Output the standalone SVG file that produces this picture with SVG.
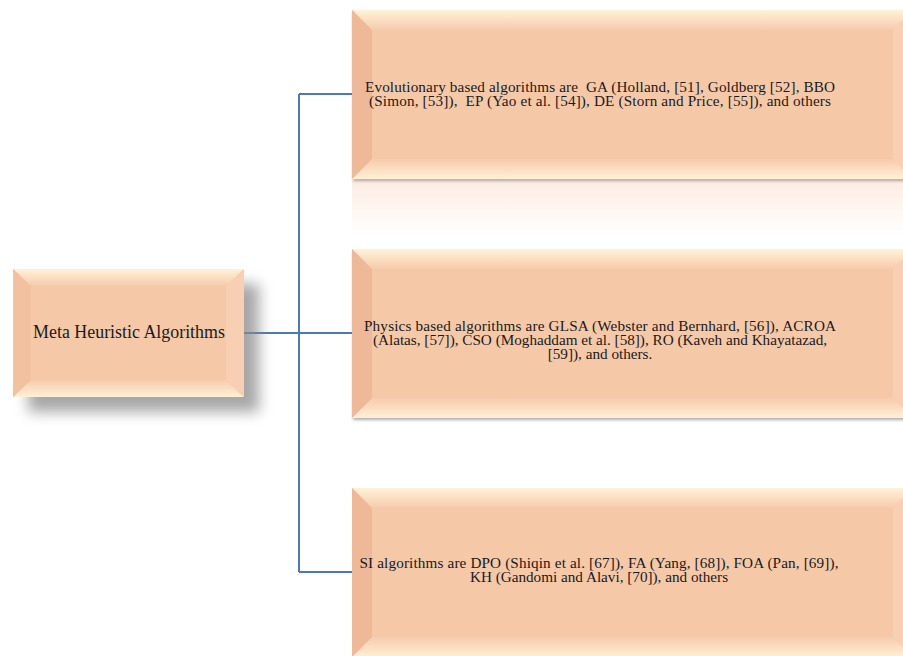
<svg xmlns="http://www.w3.org/2000/svg" width="903" height="656" viewBox="0 0 903 656">
<defs>
<style>
.face{fill:#F5C8A8}
.bt{fill:url(#gTop)}
.bb{fill:url(#gBot)}
.bl{fill:#EDB999}
.br{fill:#F8CFB2}
.txt{font-family:"Liberation Serif","Times New Roman",serif;font-size:15.2px;fill:#1a1a1a;text-anchor:middle;white-space:pre}
.conn{fill:none;stroke:#4A7AB0;stroke-width:2}
</style>
<linearGradient id="gTop" x1="0" y1="0" x2="0" y2="1">
<stop offset="0" stop-color="#FFF2D8"/>
<stop offset="1" stop-color="#F6CBAC"/>
</linearGradient>
<linearGradient id="gBot" x1="0" y1="0" x2="0" y2="1">
<stop offset="0" stop-color="#F6CBAC"/>
<stop offset="1" stop-color="#FFF0D6"/>
</linearGradient>
<linearGradient id="gRefl" x1="0" y1="0" x2="0" y2="1">
<stop offset="0" stop-color="#F5C8A8" stop-opacity="0.35"/>
<stop offset="1" stop-color="#F5C8A8" stop-opacity="0"/>
</linearGradient>
<filter id="shadowBig" x="-20%" y="-20%" width="150%" height="160%">
<feGaussianBlur stdDeviation="7"/>
</filter>
<filter id="shadowSmall" x="-5%" y="-10%" width="110%" height="130%">
<feGaussianBlur stdDeviation="1.5"/>
</filter>
</defs>
<rect width="903" height="656" fill="#FFFFFF"/>

<g id="connectors">
<path class="conn" d="M244 333 H299"/>
<path class="conn" d="M299 94 V572"/>
<path class="conn" d="M299 94 H353"/>
<path class="conn" d="M299 333 H353"/>
<path class="conn" d="M299 572 H353"/>
</g>

<g id="node-meta">
<rect x="28" y="284" width="231" height="128" fill="#8a8a8a" opacity="0.75" filter="url(#shadowBig)"/>
<rect class="face" x="13" y="269" width="231" height="128"/>
<polygon class="bt" points="13,269 244,269 226,286 31,286"/>
<polygon class="bb" points="13,397 244,397 226,380 31,380"/>
<polygon points="13,269 31,286 31,380 13,397" fill="#F2C1A0"/>
<polygon class="br" points="244,269 226,286 226,380 244,397"/>
<text class="txt" x="129" y="338" style="font-size:17.9px">Meta Heuristic Algorithms</text>
</g>

<g id="node-evolutionary">
<rect x="352" y="180" width="561" height="55" fill="url(#gRefl)"/>
<rect x="353" y="12" width="561" height="169" fill="#777" opacity="0.6" filter="url(#shadowSmall)"/>
<rect class="face" x="352" y="10" width="561" height="169"/>
<polygon class="bt" points="352,10 913,10 893,30 372,30"/>
<polygon class="bb" points="352,179 913,179 893,159 372,159"/>
<polygon class="bl" points="352,10 372,30 372,159 352,179"/>
<polygon class="br" points="913,10 893,30 893,159 913,179"/>
<text class="txt" x="600" y="91.5" textLength="470">Evolutionary based algorithms are  GA (Holland, [51], Goldberg [52], BBO</text>
<text class="txt" x="600" y="105.5" textLength="462">(Simon, [53]),  EP (Yao et al. [54]), DE (Storn and Price, [55]), and others</text>
</g>

<g id="node-physics">
<rect x="353" y="251" width="561" height="169" fill="#777" opacity="0.6" filter="url(#shadowSmall)"/>
<rect class="face" x="352" y="249" width="561" height="169"/>
<polygon class="bt" points="352,249 913,249 893,269 372,269"/>
<polygon class="bb" points="352,418 913,418 893,398 372,398"/>
<polygon class="bl" points="352,249 372,269 372,398 352,418"/>
<polygon class="br" points="913,249 893,269 893,398 913,418"/>
<text class="txt" x="600" y="330.5" textLength="472">Physics based algorithms are GLSA (Webster and Bernhard, [56]), ACROA</text>
<text class="txt" x="600" y="344.5">(Alatas, [57]), CSO (Moghaddam et al. [58]), RO (Kaveh and Khayatazad,</text>
<text class="txt" x="600" y="358.5">[59]), and others.</text>
</g>

<g id="node-si">
<rect class="face" x="352" y="488" width="561" height="169"/>
<polygon class="bt" points="352,488 913,488 893,508 372,508"/>
<polygon class="bb" points="352,657 913,657 893,637 372,637"/>
<polygon class="bl" points="352,488 372,508 372,637 352,657"/>
<polygon class="br" points="913,488 893,508 893,637 913,657"/>
<text class="txt" x="599" y="567.5" textLength="479">SI algorithms are DPO (Shiqin et al. [67]), FA (Yang, [68]), FOA (Pan, [69]),</text>
<text class="txt" x="599" y="581.5">KH (Gandomi and Alavi, [70]), and others</text>
</g>
</svg>
